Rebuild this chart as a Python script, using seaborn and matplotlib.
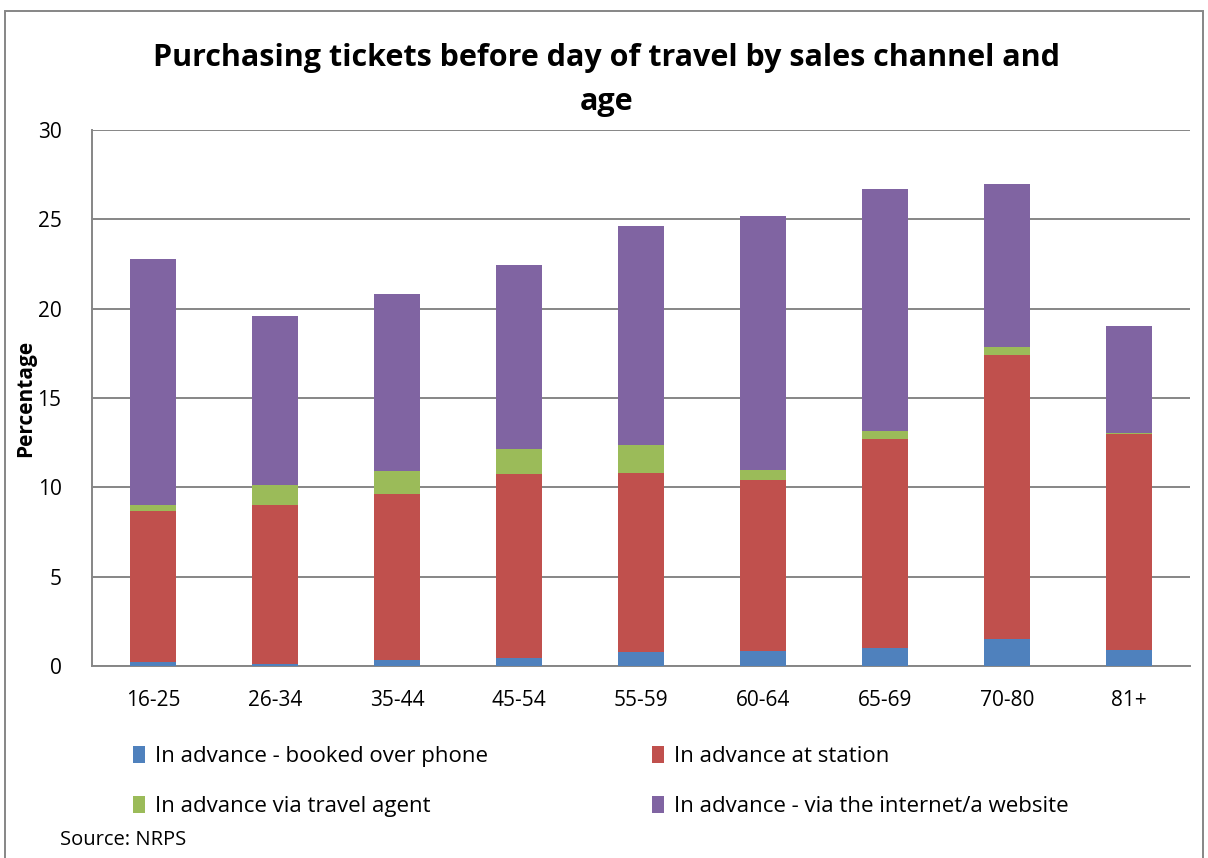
import numpy as np
import pandas as pd
import matplotlib
matplotlib.use("Agg")
import matplotlib.pyplot as plt
from matplotlib.patches import Rectangle, Patch
import seaborn as sns

# Age groups and the four sales channels (percent)
ages = ['16-25', '26-34', '35-44', '45-54', '55-59', '60-64', '65-69', '70-80', '81+']
phone = [0.2, 0.1, 0.35, 0.47, 0.78, 0.82, 1.0, 1.5, 0.88]
station = [8.5, 8.9, 9.3, 10.3, 10.0, 9.6, 11.7, 15.9, 12.1]
agent = [0.3, 1.15, 1.25, 1.38, 1.6, 0.56, 0.47, 0.43, 0.08]
internet = [13.8, 9.45, 9.9, 10.3, 12.25, 14.2, 13.55, 9.15, 5.95]

series_names = ['In advance - booked over phone', 'In advance at station',
                'In advance via travel agent', 'In advance - via the internet/a website']
series_colors = ['#4F81BD', '#C0504D', '#9BBB59', '#8064A2']

sns.set_style('white')
plt.rcParams['font.family'] = ['Open Sans', 'DejaVu Sans']
plt.rcParams['text.color'] = 'black'
plt.rcParams['axes.labelcolor'] = 'black'

df = pd.DataFrame({'Age': ages, 'phone': phone, 'station': station,
                   'agent': agent, 'internet': internet})
# cumulative totals so each layer can be drawn on top of the previous one
df['c_phone'] = df['phone']
df['c_station'] = df['c_phone'] + df['station']
df['c_agent'] = df['c_station'] + df['agent']
df['c_internet'] = df['c_agent'] + df['internet']

fig = plt.figure(figsize=(12.08, 8.58), dpi=100)
ax = fig.add_axes([92 / 1208, 1 - 666 / 858, 1098 / 1208, 536 / 858])

# draw tallest stack first, then overlay smaller cumulative sums
for col, color in zip(['c_internet', 'c_agent', 'c_station', 'c_phone'], series_colors[::-1]):
    sns.barplot(data=df, x='Age', y=col, color=color, width=0.38, ax=ax,
                saturation=1, linewidth=0, zorder=3)

ax.set_ylim(0, 30)
ax.set_xlim(-0.5, len(ages) - 0.5)
ax.set_yticks(range(0, 31, 5))
ax.yaxis.grid(True, color='#868686', linewidth=1.4, zorder=0)
ax.set_axisbelow(True)

for side in ['top', 'right']:
    ax.spines[side].set_visible(False)
for side in ['left', 'bottom']:
    ax.spines[side].set_color('#868686')
    ax.spines[side].set_linewidth(1.4)

# x tick marks sit between categories, labels at category centres
ax.set_xticks(np.arange(-0.5, len(ages), 1.0), minor=False)
ax.set_xticklabels([])
ax.set_xticks(range(len(ages)), minor=True)
ax.set_xticklabels(ages, minor=True, fontsize=15)
ax.tick_params(axis='x', which='major', length=9, width=1.4, color='#868686', direction='out')
ax.tick_params(axis='x', which='minor', length=0, pad=17, labelcolor='black')
ax.tick_params(axis='y', length=7, width=1.4, color='#868686', direction='out',
               labelsize=15, pad=15, labelcolor='black')

ax.set_xlabel('')
ax.set_ylabel('Percentage', fontsize=15, fontweight='bold', labelpad=1)

fig.text(0.502, 1 - 80 / 858, 'Purchasing tickets before day of travel by sales channel and\nage',
         ha='center', va='center', fontsize=22, fontweight='bold', linespacing=1.64)

# legend fills by column, so order handles to read row-wise like the original
order = [0, 2, 1, 3]
handles = [Patch(facecolor=series_colors[i], edgecolor='none') for i in order]
labels = [series_names[i] for i in order]
leg = fig.legend(handles, labels, ncol=2, loc='upper left',
                 bbox_to_anchor=(113 / 1208, 1 - 726 / 858), frameon=False, fontsize=16,
                 handlelength=0.55, handleheight=0.8, handletextpad=0.45,
                 columnspacing=7.35, labelspacing=1.3)

fig.text(60 / 1208, 1 - 840 / 858, 'Source: NRPS', fontsize=14.5, va='center')

# chart area border
fig.patches.append(Rectangle((5 / 1208, -0.01), 1198 / 1208, 1 - 11 / 858 + 0.01,
                             transform=fig.transFigure, fill=False,
                             edgecolor='#868686', linewidth=1.4))

fig.savefig('out.png', dpi=100)
